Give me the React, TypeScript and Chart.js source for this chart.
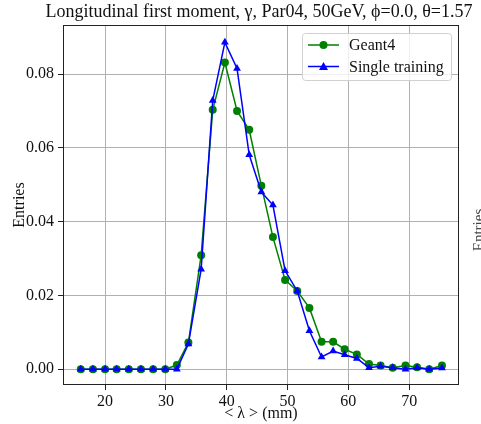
import React, { useEffect, useRef } from 'react';
import { Chart, registerables } from 'chart.js';
Chart.register(...registerables);

const titleText = 'Longitudinal first moment, γ, Par04, 50GeV, ϕ=0.0, θ=1.57';
const xLabel = '< λ > (mm)';
const yLabel = 'Entries';
const seriesNames = ['Geant4', 'Single training'];
const seriesColors = ['#008000', '#0000ff'];
const xValues = [16.0, 18.0, 20.0, 21.9, 23.9, 25.9, 27.9, 29.9, 31.8, 33.7, 35.8, 37.7, 39.7, 41.7, 43.7, 45.7, 47.6, 49.6, 51.6, 53.6, 55.6, 57.5, 59.4, 61.4, 63.4, 65.3, 67.3, 69.4, 71.3, 73.3, 75.4];
const geant4 = [0, 0, 0, 0, 0, 0, 0, 0, 0.0011, 0.0072, 0.0309, 0.0703, 0.0831, 0.0700, 0.0649, 0.0497, 0.0358, 0.0242, 0.0212, 0.0166, 0.0074, 0.0074, 0.0054, 0.0040, 0.0014, 0.0010, 0.0004, 0.0010, 0.0005, 0, 0.0010];
const singleTraining = [0, 0, 0, 0, 0, 0, 0, 0, 0, 0.0068, 0.0271, 0.0728, 0.0886, 0.0815, 0.0581, 0.0480, 0.0445, 0.0267, 0.0212, 0.0104, 0.0033, 0.0049, 0.0039, 0.0029, 0.0004, 0.0008, 0.0004, 0, 0.0004, 0, 0.0003];
const xTicks = [20, 30, 40, 50, 60, 70];
const yTicks = [0, 0.02, 0.04, 0.06, 0.08];

const FONT = "'Liberation Serif', 'DejaVu Serif', serif";

export default function App() {
  const ref = useRef<HTMLCanvasElement | null>(null);
  useEffect(() => {
    if (!ref.current) return;
    const decor = {
      id: 'decor',
      afterDraw(chart: any) {
        const { ctx, chartArea: a } = chart;
        ctx.save();
        // frame
        ctx.strokeStyle = '#222';
        ctx.lineWidth = 1;
        ctx.strokeRect(a.left + 0.5, a.top + 0.5, a.right - a.left - 1, a.bottom - a.top - 1);
        // title
        ctx.fillStyle = '#111';
        ctx.font = `18px ${FONT}`;
        ctx.textAlign = 'center';
        ctx.textBaseline = 'middle';
        ctx.fillText(titleText, (a.left + a.right) / 2 - 2, 12);
        // fragment of neighbouring panel's axis label
        ctx.save();
        ctx.translate(483, 230);
        ctx.rotate(-Math.PI / 2);
        ctx.font = `15px ${FONT}`;
        ctx.fillStyle = '#444';
        ctx.textBaseline = 'alphabetic';
        ctx.fillText(yLabel, 0, 0);
        ctx.restore();
        // legend
        const bx = a.right - 157, by = a.top + 8, bw = 149, bh = 47;
        ctx.fillStyle = 'rgba(255,255,255,0.8)';
        ctx.strokeStyle = '#d0d0d0';
        ctx.lineWidth = 1;
        ctx.beginPath();
        (ctx as any).roundRect(bx + 0.5, by + 0.5, bw, bh, 3);
        ctx.fill();
        ctx.stroke();
        ctx.font = `16px ${FONT}`;
        ctx.textAlign = 'left';
        ctx.textBaseline = 'middle';
        seriesNames.forEach((name, i) => {
          const y = by + 12 + i * 21.5;
          const x0 = bx + 6, x1 = bx + 37, xm = (x0 + x1) / 2;
          ctx.strokeStyle = seriesColors[i];
          ctx.fillStyle = seriesColors[i];
          ctx.lineWidth = 1.5;
          ctx.beginPath();
          ctx.moveTo(x0, y);
          ctx.lineTo(x1, y);
          ctx.stroke();
          ctx.beginPath();
          if (i === 0) {
            ctx.arc(xm, y, 4, 0, Math.PI * 2);
          } else {
            ctx.moveTo(xm, y - 4.5);
            ctx.lineTo(xm + 4.5, y + 3.5);
            ctx.lineTo(xm - 4.5, y + 3.5);
            ctx.closePath();
          }
          ctx.fill();
          ctx.fillStyle = '#111';
          ctx.fillText(name, bx + 47, y + 1);
        });
        ctx.restore();
      },
    };
    const chart = new Chart(ref.current, {
      type: 'line',
      data: {
        datasets: [
          {
            label: seriesNames[0],
            data: xValues.map((x, i) => ({ x, y: geant4[i] })),
            borderColor: seriesColors[0],
            backgroundColor: seriesColors[0],
            borderWidth: 1.5,
            pointStyle: 'circle',
            pointRadius: 4,
            pointBorderWidth: 0,
            order: 1,
          },
          {
            label: seriesNames[1],
            data: xValues.map((x, i) => ({ x, y: singleTraining[i] })),
            borderColor: seriesColors[1],
            backgroundColor: seriesColors[1],
            borderWidth: 1.5,
            pointStyle: 'triangle',
            pointRadius: 4.5,
            pointBorderWidth: 0,
            order: 0,
          },
        ],
      },
      options: {
        responsive: false,
        animation: false,
        devicePixelRatio: 1,
        layout: { padding: { top: 25, right: 22, left: 0, bottom: 0 } },
        plugins: { legend: { display: false }, title: { display: false }, tooltip: { enabled: false } },
        scales: {
          x: {
            type: 'linear',
            min: 13.08,
            max: 78.2,
            afterBuildTicks: (s: any) => { s.ticks = xTicks.map((v) => ({ value: v })); },
            afterFit: (s: any) => { s.height = 39; },
            grid: { color: '#b0b0b0', lineWidth: 1, tickColor: '#222', tickLength: 5 },
            border: { display: false },
            ticks: { color: '#111', font: { family: FONT, size: 16 }, padding: 2, maxRotation: 0 },
            title: { display: true, text: xLabel, color: '#111', font: { family: FONT, size: 16 }, padding: { top: 0, bottom: 1 } },
          },
          y: {
            type: 'linear',
            min: -0.0043,
            max: 0.0933,
            afterBuildTicks: (s: any) => { s.ticks = yTicks.map((v) => ({ value: v })); },
            afterFit: (s: any) => { s.width = 63; },
            grid: { color: '#b0b0b0', lineWidth: 1, tickColor: '#222', tickLength: 5 },
            border: { display: false },
            ticks: { color: '#111', font: { family: FONT, size: 16 }, padding: 4, callback: (v: any) => Number(v).toFixed(2) },
            title: { display: true, text: yLabel, color: '#111', font: { family: FONT, size: 16 }, padding: { top: 10, bottom: 0 } },
          },
        },
      },
      plugins: [decor],
    } as any);
    return () => chart.destroy();
  }, []);
  return (
    <div style={{ position: 'absolute', left: 0, top: 0, width: 481, height: 424, background: '#fff' }}>
      <canvas ref={ref} width={481} height={424} style={{ display: 'block' }} />
    </div>
  );
}
